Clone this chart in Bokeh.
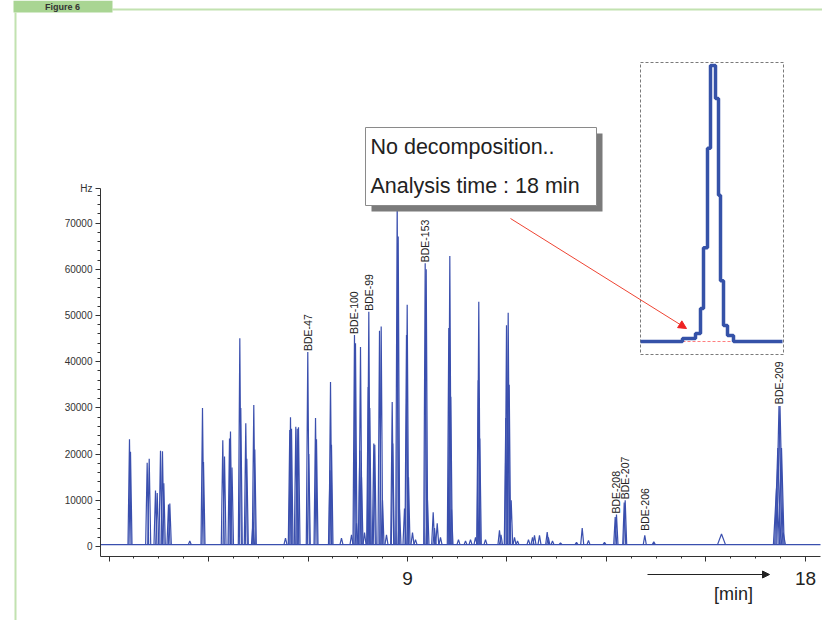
import math
from bokeh.plotting import figure
from bokeh.models import Range1d, FixedTicker, Label, Arrow, NormalHead, BoxAnnotation
from bokeh.core.properties import value
from bokeh.embed import file_html
from bokeh.resources import INLINE

FONT = "Liberation Sans"

# ------------------------------------------------------------------ data
# narrow chromatogram peaks: retention time [min], apex height [Hz]
peak_time = [2.713, 2.736, 3.113, 3.159, 3.301, 3.340, 3.414, 3.459, 3.489, 3.595,
             3.625, 4.077, 4.364, 4.387, 4.823, 4.862, 4.975, 4.997, 5.031, 5.208,
             5.230, 5.343, 5.366, 5.506, 5.524, 5.547, 6.241, 6.338, 6.354, 6.377,
             6.474, 6.506, 6.535, 6.745, 6.768, 6.920, 6.942, 7.247, 7.259, 7.281,
             7.507, 7.734, 7.801, 7.824, 7.847, 7.921, 7.937, 7.960, 8.028, 8.111,
             8.125, 8.147, 8.238, 8.260, 8.367, 8.405, 8.435, 8.525, 8.654, 8.668,
             8.767, 8.790, 8.819, 8.932, 8.977, 8.993, 9.023, 9.113, 9.181, 9.400,
             9.423, 9.452, 9.581, 9.611, 9.672, 9.746, 9.934, 9.957, 9.979, 9.995,
             10.153, 10.312, 10.425, 10.538, 10.599, 10.612, 10.635, 10.764, 11.080, 11.114,
             11.223, 11.239, 11.277, 11.300, 11.345, 11.420, 11.488, 11.736, 11.827, 11.872,
             11.985, 12.159, 12.185, 12.279, 12.460, 12.822, 12.951, 13.093, 13.455, 13.697,
             13.726, 13.901, 13.923, 14.366, 14.570]
peak_height = [23200, 20500, 18100, 19000, 12100, 11600, 20700, 20600, 13700, 9100,
               9300, 1200, 30000, 18300, 23000, 19500, 23400, 24900, 17100, 45100,
               30000, 26700, 19000, 5300, 30600, 21000, 1800, 25200, 28000, 25500,
               25900, 25500, 25800, 42100, 20000, 27800, 23200, 16500, 35600, 22000,
               1800, 2500, 45800, 44000, 5000, 20800, 43200, 15000, 3000, 34500,
               50800, 30000, 22300, 22000, 46700, 47600, 10000, 2500, 31300, 22300,
               75000, 67100, 8000, 8200, 45800, 52300, 15000, 3000, 1500, 61300,
               60000, 10000, 7400, 4000, 5000, 2000, 47300, 62900, 32400, 8000,
               1500, 1200, 1500, 2000, 36000, 53000, 23400, 1500, 3500, 2500,
               27800, 47900, 50600, 35000, 10000, 2000, 1200, 1500, 2000, 2400,
               2400, 3100, 2000, 1200, 800, 900, 4000, 1300, 900, 6400,
               6900, 9500, 10000, 2400, 1000]
# broad peaks: retention time [min], apex height [Hz], half width [min]
broad_time = [16.101, 17.345, 17.374, 17.401, 17.424, 17.458, 17.496]
broad_height = [2700, 12600, 21300, 30400, 30400, 21300, 3000]
broad_halfwidth = [0.09, 0.07, 0.07, 0.07, 0.07, 0.06, 0.05]
baseline_level = 400

# congener annotations
bde_names = ["BDE-47", "BDE-100", "BDE-99", "BDE-153", "BDE-208", "BDE-207", "BDE-206", "BDE-209"]
bde_time = [6.745, 7.801, 8.125, 9.400, 13.711, 13.912, 14.366, 17.412]
bde_level = [42100, 45800, 50800, 61300, 6900, 10000, 3200, 30600]

# axes
y_tick_values = [0, 10000, 20000, 30000, 40000, 50000, 60000, 70000, 77500]
y_tick_labels = ["0", "10000", "20000", "30000", "40000", "50000", "60000", "70000", "Hz"]
y_minor_values = list(range(0, 78000, 2000))
x_tick_values = [2.25, 4.5, 6.75, 9, 11.25, 13.5, 15.75, 18]
x_tick_labels = ["", "", "", "9", "", "", "", "18"]
x_minor_step = 0.5625

# inset: magnified BDE-209 peak, relative scan position and relative signal [%]
inset_scan = [0, 42, 55, 60, 63, 67, 70, 75, 78, 80, 83, 87, 93, 142]
inset_signal = [0, 1.1, 2.9, 12, 34, 70, 100, 88, 53, 22, 5.8, 2.2, 0, 0]

# ------------------------------------------------------------------ layout helpers (page px -> data)
W, H = 822, 620
PX_PER_MIN = 44.22
X_REF_PX, X_REF_MIN = 407.0, 9.0
ZERO_PY = 546.0
PY_PER_HZ = 46.2 / 10000.0


def tx(px):
    return X_REF_MIN + (px - X_REF_PX) / PX_PER_MIN


def ty(py):
    return (ZERO_PY - py) / PY_PER_HZ


LEFT_PX, RIGHT_PX, AXIS_PY = 100, 820, 556
INSET_X0_PX, INSET_BASE_PY, INSET_PX_PER_PCT = 640, 341, 2.76


def ix(px):
    return px - INSET_X0_PX


def iy(py):
    return (INSET_BASE_PY - py) / INSET_PX_PER_PCT


p = figure(width=W, height=H,
           x_range=Range1d(tx(0), tx(W)),
           y_range=Range1d(ty(H), ty(0)),
           output_backend="svg", toolbar_location=None,
           min_border=0, min_border_left=0, min_border_right=0,
           min_border_top=0, min_border_bottom=0)
p.extra_x_ranges = {"ix": Range1d(ix(0), ix(W))}
p.extra_y_ranges = {"iy": Range1d(iy(H), iy(0))}
p.outline_line_color = None
p.background_fill_color = "white"
p.border_fill_color = "white"
p.xgrid.visible = False
p.ygrid.visible = False

# ------------------------------------------------------------------ axes
ax = p.xaxis[0]
ax.fixed_location = ty(AXIS_PY)
ax.ticker = FixedTicker(ticks=x_tick_values,
                        minor_ticks=[x_tick_values[0] + i * x_minor_step for i in range(29)])
ax.major_label_overrides = {v: l for v, l in zip(x_tick_values, x_tick_labels)}
ax.bounds = (tx(LEFT_PX), tx(RIGHT_PX))
ax.axis_line_color = "#333333"
ax.major_tick_line_color = "#333333"
ax.minor_tick_line_color = "#333333"
ax.major_tick_out = 5
ax.major_tick_in = 0
ax.minor_tick_out = 2
ax.minor_tick_in = 0
ax.major_label_text_font = FONT
ax.major_label_text_font_size = "19px"
ax.major_label_text_color = "#222222"
ax.major_label_standoff = 10

ay = p.yaxis[0]
ay.fixed_location = tx(LEFT_PX)
ay.ticker = FixedTicker(ticks=y_tick_values, minor_ticks=y_minor_values)
ay.major_label_overrides = {v: l for v, l in zip(y_tick_values, y_tick_labels)}
ay.bounds = (ty(AXIS_PY), y_tick_values[-1])
ay.axis_line_color = "#333333"
ay.major_tick_line_color = "#333333"
ay.minor_tick_line_color = "#333333"
ay.major_tick_out = 5
ay.major_tick_in = 0
ay.minor_tick_out = 3
ay.minor_tick_in = 0
ay.major_label_text_font = FONT
ay.major_label_text_font_size = "10px"
ay.major_label_text_color = "#333333"
ay.major_label_standoff = 3

# ------------------------------------------------------------------ chromatogram
TRACE = "#3a4fae"
HW = 0.034
p.line([tx(LEFT_PX), tx(RIGHT_PX)], [baseline_level, baseline_level],
       line_color=TRACE, line_width=1.2)
p.multi_line(xs=[[t - HW, t, t + HW] for t in peak_time],
             ys=[[baseline_level, h, baseline_level] for h in peak_height],
             line_color=TRACE, line_width=1.2)
p.multi_line(xs=[[t - w, t, t + w] for t, w in zip(broad_time, broad_halfwidth)],
             ys=[[baseline_level, h, baseline_level] for h in broad_height],
             line_color=TRACE, line_width=1.2)

p.text(x=bde_time, y=bde_level, text=bde_names, angle=math.pi / 2,
       text_align="left", text_baseline="middle", y_offset=-1,
       text_font=value(FONT), text_font_size="10.5px", text_color="#222222")

# ------------------------------------------------------------------ inset
p.quad(left=[ix(640)], right=[ix(783)], bottom=[iy(354)], top=[iy(62)],
       x_range_name="ix", y_range_name="iy",
       fill_color=None, line_color="#7a7a7a", line_dash="3 2", line_width=1)
p.line([inset_scan[1], inset_scan[-2]], [0, 0], x_range_name="ix", y_range_name="iy",
       line_color="#ff7f7f", line_dash="3 2", line_width=1)
p.step(inset_scan, inset_signal, mode="after", x_range_name="ix", y_range_name="iy",
       line_color="#3552a8", line_width=3.5)

p.add_layout(Arrow(x_start=ix(510), y_start=iy(218), x_end=ix(686), y_end=iy(328),
                   x_range_name="ix", y_range_name="iy",
                   line_color="#ee4433", line_width=1,
                   end=NormalHead(size=8, fill_color="#ee2222", line_color="#ee2222")))

# ------------------------------------------------------------------ callout
p.quad(left=[tx(371)], right=[tx(602)], top=[ty(133)], bottom=[ty(211)],
       fill_color="#7b7b7b", line_color=None)
p.quad(left=[tx(365)], right=[tx(596)], top=[ty(127)], bottom=[ty(205)],
       fill_color="white", line_color="#8a8a8a", line_width=1)
p.add_layout(Label(x=tx(370), y=ty(146), text="No decomposition..",
                   text_font=FONT, text_font_size="21.5px", text_color="#222222",
                   text_baseline="middle"))
p.add_layout(Label(x=tx(370), y=ty(185), text="Analysis time : 18 min",
                   text_font=FONT, text_font_size="21.5px", text_color="#222222",
                   text_baseline="middle"))

# ------------------------------------------------------------------ time arrow and unit
p.add_layout(Arrow(x_start=tx(647), y_start=ty(574), x_end=tx(769), y_end=ty(574),
                   line_color="#222222", line_width=1,
                   end=NormalHead(size=7, fill_color="#222222", line_color="#222222")))
p.add_layout(Label(x=tx(733), y=ty(593), text="[min]",
                   text_font=FONT, text_font_size="18px", text_color="#222222",
                   text_align="center", text_baseline="middle"))

# ------------------------------------------------------------------ page frame decoration
GREEN = "#c2e2b0"
p.add_layout(BoxAnnotation(left=tx(112), right=tx(W), top=ty(8), bottom=ty(10),
                           fill_color=GREEN, fill_alpha=1, line_alpha=0))
p.add_layout(BoxAnnotation(left=tx(13), right=tx(112), top=ty(0), bottom=ty(12),
                           fill_color="#a9d593", fill_alpha=1, line_alpha=0))
p.add_layout(BoxAnnotation(left=tx(14), right=tx(16), top=ty(12), bottom=ty(H),
                           fill_color=GREEN, fill_alpha=1, line_alpha=0))
p.add_layout(Label(x=tx(62), y=ty(6.5), text="Figure 6", text_align="center",
                   text_baseline="middle", text_font=FONT, text_font_size="9px",
                   text_font_style="bold", text_color="#333333"))

open("out.html", "w").write(file_html(p, INLINE))
